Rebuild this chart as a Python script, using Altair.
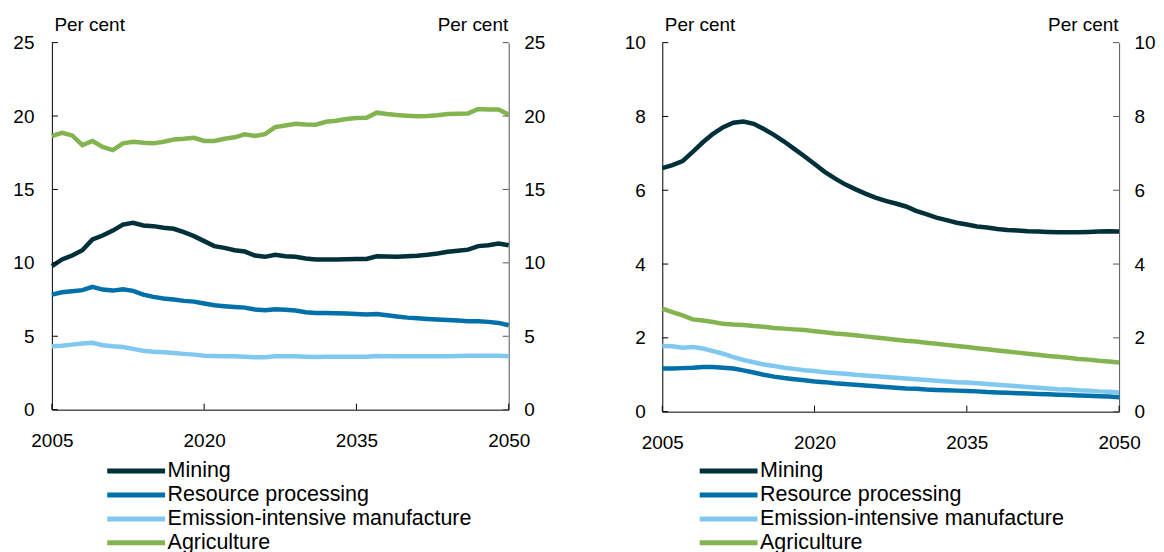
import altair as alt
import pandas as pd

years = list(range(2005, 2051))
series = ["Mining", "Resource processing", "Emission-intensive manufacture", "Agriculture"]
colors = ["#00313B", "#0070AA", "#80C8F0", "#84B450"]
x_ticks = [2005, 2020, 2035, 2050]

# Left panel (per cent)
left_mining = [9.77, 10.23, 10.5, 10.86, 11.59, 11.86, 12.2, 12.61, 12.73, 12.55,
               12.5, 12.39, 12.32, 12.09, 11.82, 11.48, 11.14, 11.02, 10.86, 10.77,
               10.5, 10.41, 10.55, 10.45, 10.41, 10.3, 10.23, 10.23, 10.23, 10.25,
               10.27, 10.27, 10.45, 10.43, 10.41, 10.45, 10.48, 10.55, 10.64, 10.75,
               10.82, 10.9, 11.14, 11.2, 11.32, 11.2]
left_resource = [7.84, 8.0, 8.07, 8.14, 8.36, 8.18, 8.11, 8.2, 8.09, 7.84,
                 7.68, 7.57, 7.5, 7.41, 7.36, 7.23, 7.11, 7.05, 7.0, 6.95,
                 6.82, 6.77, 6.84, 6.8, 6.75, 6.64, 6.59, 6.59, 6.57, 6.55,
                 6.52, 6.48, 6.52, 6.43, 6.34, 6.27, 6.23, 6.18, 6.14, 6.11,
                 6.07, 6.02, 6.02, 5.98, 5.91, 5.75]
left_emission = [4.32, 4.36, 4.43, 4.5, 4.55, 4.39, 4.32, 4.27, 4.14, 4.02,
                 3.95, 3.91, 3.86, 3.8, 3.75, 3.68, 3.66, 3.64, 3.64, 3.61,
                 3.57, 3.57, 3.64, 3.64, 3.64, 3.61, 3.59, 3.61, 3.61, 3.61,
                 3.61, 3.61, 3.66, 3.64, 3.64, 3.64, 3.64, 3.64, 3.64, 3.64,
                 3.66, 3.68, 3.68, 3.68, 3.68, 3.64]
left_agriculture = [18.64, 18.86, 18.68, 18.02, 18.3, 17.9, 17.68, 18.14, 18.25, 18.18,
                    18.14, 18.25, 18.4, 18.45, 18.52, 18.3, 18.3, 18.45, 18.55, 18.75,
                    18.64, 18.77, 19.25, 19.36, 19.48, 19.43, 19.41, 19.61, 19.68, 19.8,
                    19.86, 19.89, 20.23, 20.14, 20.07, 20.02, 19.98, 20.0, 20.05, 20.14,
                    20.16, 20.18, 20.48, 20.45, 20.45, 20.1]
left_y_ticks = [0, 5, 10, 15, 20, 25]

# Right panel (per cent)
right_mining = [6.6, 6.68, 6.79, 7.04, 7.3, 7.53, 7.71, 7.83, 7.86, 7.8,
                7.66, 7.5, 7.32, 7.12, 6.92, 6.71, 6.5, 6.32, 6.16, 6.03,
                5.91, 5.8, 5.71, 5.64, 5.56, 5.44, 5.35, 5.26, 5.19, 5.12,
                5.07, 5.02, 4.99, 4.95, 4.92, 4.91, 4.89, 4.88, 4.87, 4.86,
                4.86, 4.86, 4.87, 4.88, 4.89, 4.88]
right_resource = [1.17, 1.17, 1.18, 1.19, 1.21, 1.21, 1.19, 1.17, 1.12, 1.06,
                  1.0, 0.95, 0.91, 0.88, 0.85, 0.82, 0.8, 0.77, 0.75, 0.73,
                  0.71, 0.69, 0.67, 0.65, 0.63, 0.62, 0.6, 0.59, 0.58, 0.57,
                  0.56, 0.55, 0.53, 0.52, 0.51, 0.5, 0.49, 0.48, 0.47, 0.46,
                  0.45, 0.44, 0.43, 0.42, 0.41, 0.39]
right_emission = [1.78, 1.77, 1.73, 1.75, 1.71, 1.64, 1.57, 1.48, 1.4, 1.34,
                  1.28, 1.24, 1.19, 1.16, 1.12, 1.1, 1.07, 1.05, 1.03, 1.0,
                  0.98, 0.96, 0.94, 0.92, 0.9, 0.88, 0.86, 0.84, 0.82, 0.8,
                  0.79, 0.77, 0.75, 0.73, 0.71, 0.69, 0.67, 0.65, 0.63, 0.61,
                  0.6, 0.58, 0.57, 0.55, 0.54, 0.52]
right_agriculture = [2.79, 2.7, 2.61, 2.5, 2.47, 2.43, 2.38, 2.36, 2.35, 2.32,
                     2.3, 2.27, 2.25, 2.23, 2.21, 2.18, 2.15, 2.12, 2.1, 2.07,
                     2.04, 2.01, 1.98, 1.95, 1.92, 1.9, 1.87, 1.84, 1.81, 1.78,
                     1.75, 1.72, 1.69, 1.66, 1.63, 1.6, 1.57, 1.54, 1.51, 1.49,
                     1.46, 1.43, 1.41, 1.38, 1.36, 1.33]
right_y_ticks = [0, 2, 4, 6, 8, 10]

FONT = "Liberation Sans"
W = 458
TICK = 6


def long_frame(cols):
    rows = []
    for name, vals in zip(series, cols):
        for yr, v in zip(years, vals):
            rows.append({"year": yr, "value": v, "series": name})
    return pd.DataFrame(rows)


def panel(cols, yticks, H, legend_x, pad_left, pad_right):
    ymax = yticks[-1]
    xscale = alt.Scale(domain=[2005, 2050], nice=False, zero=False)
    yscale = alt.Scale(domain=[0, ymax], nice=False)
    x_axis = alt.Axis(values=x_ticks, format="d", title=None, labelFlush=False,
                      labelPadding=22, tickSize=0, grid=False, domainColor="black")
    df = long_frame(cols)

    lines = alt.Chart(df).mark_line(strokeWidth=4.5).encode(
        x=alt.X("year:Q", scale=xscale, axis=x_axis),
        y=alt.Y("value:Q", scale=yscale,
                axis=alt.Axis(orient="left", values=yticks, title="Per cent", titleAngle=0,
                              titleAlign="left", titleBaseline="alphabetic", titleX=2, titleY=-12,
                              tickSize=0, labelPadding=pad_left, grid=False, domainColor="black")),
        color=alt.Color("series:N", sort=series,
                        scale=alt.Scale(domain=series, range=colors),
                        legend=alt.Legend(title=None, orient="none", legendX=legend_x, legendY=420.5,
                                          symbolType="stroke", symbolSize=3364, symbolStrokeWidth=5,
                                          clipHeight=18, rowPadding=2, labelFontSize=21.5,
                                          labelOffset=0, labelLimit=500, padding=0,
                                          labelColor="black", labelFont=FONT)),
    )

    tick_df = pd.DataFrame({"t": yticks})
    left_ticks = alt.Chart(tick_df).mark_rule(color="black", strokeWidth=1).encode(
        y=alt.Y("t:Q", scale=yscale, axis=None),
        x=alt.value(0), x2=alt.value(TICK),
    )
    right_ticks = alt.Chart(tick_df).mark_rule(color="#555555", strokeWidth=1).encode(
        y=alt.Y("t:Q", scale=yscale,
                axis=alt.Axis(orient="right", values=yticks, title="Per cent", titleAngle=0,
                              titleAlign="right", titleBaseline="alphabetic", titleX=-1, titleY=-12,
                              tickSize=0, labelPadding=pad_right, grid=False, domainColor="#555555")),
        x=alt.value(W - TICK), x2=alt.value(W),
    )
    x_tick_rules = alt.Chart(pd.DataFrame({"t": x_ticks})).mark_rule(color="black", strokeWidth=1).encode(
        x=alt.X("t:Q", scale=xscale, axis=x_axis),
        y=alt.value(H - TICK), y2=alt.value(H),
    )
    return alt.layer(lines, left_ticks, right_ticks, x_tick_rules).resolve_scale(
        y="independent").properties(width=W, height=H)


left = panel([left_mining, left_resource, left_emission, left_agriculture],
             left_y_ticks, 368, 53, 18, 15)
right = panel([right_mining, right_resource, right_emission, right_agriculture],
              right_y_ticks, 370, 35, 17, 15)

chart = alt.hconcat(left, right, spacing=78).resolve_scale(color="independent").properties(
    padding={"left": 4, "top": 7, "right": 0, "bottom": 5}
).configure(
    font=FONT
).configure_view(
    stroke=None
).configure_axis(
    labelFontSize=19, labelColor="black", labelFont=FONT,
    titleFontSize=19, titleColor="black", titleFont=FONT, titleFontWeight="normal",
)

chart.save("out.html", embed_options={"renderer": "svg", "actions": False})
